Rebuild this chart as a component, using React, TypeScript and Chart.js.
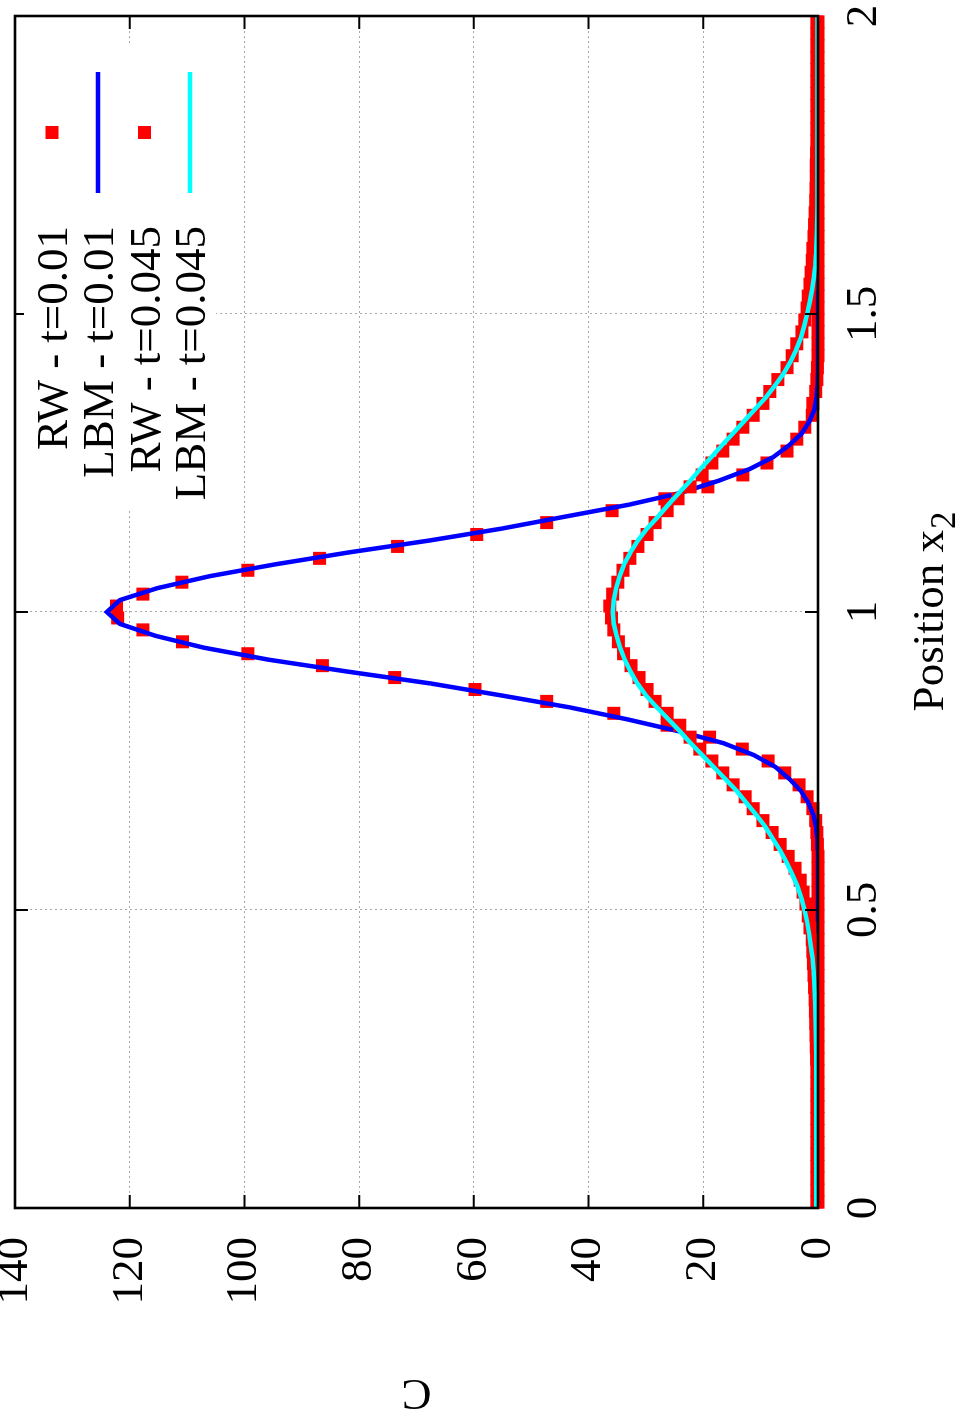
import { useEffect, useRef } from 'react';
import { Chart, registerables } from 'chart.js';

Chart.register(...registerables);

// Random-walk bin centres (shared by both RW series)
const RW_X = [
  0.01, 0.03, 0.05, 0.07, 0.09, 0.11, 0.13, 0.15, 0.17, 0.19,
  0.21, 0.23, 0.25, 0.27, 0.29, 0.31, 0.33, 0.35, 0.37, 0.39,
  0.41, 0.43, 0.45, 0.47, 0.49, 0.51, 0.53, 0.55, 0.57, 0.59,
  0.61, 0.63, 0.65, 0.67, 0.69, 0.71, 0.73, 0.75, 0.77, 0.79,
  0.81, 0.83, 0.85, 0.87, 0.89, 0.91, 0.93, 0.95, 0.97, 0.99,
  1.01, 1.03, 1.05, 1.07, 1.09, 1.11, 1.13, 1.15, 1.17, 1.19,
  1.21, 1.23, 1.25, 1.27, 1.29, 1.31, 1.33, 1.35, 1.37, 1.39,
  1.41, 1.43, 1.45, 1.47, 1.49, 1.51, 1.53, 1.55, 1.57, 1.59,
  1.61, 1.63, 1.65, 1.67, 1.69, 1.71, 1.73, 1.75, 1.77, 1.79,
  1.81, 1.83, 1.85, 1.87, 1.89, 1.91, 1.93, 1.95, 1.97, 1.99,
];

const RW_T001 = [
  0, 0, 0, 0, 0, 0, 0, 0, 0, 0,
  0, 0, 0, 0, 0, 0, 0, 0, 0, 0,
  0, 0, 0, 0, 0, 0, 0, 0, 0, 0,
  0.1, 0.2, 0.4, 0.9, 1.9, 3.3, 5.8, 8.7, 13.2, 18.9,
  26.3, 35.6, 47.3, 59.8, 73.8, 86.4, 99.4, 110.8, 117.7, 122.1,
  122.3, 117.7, 110.9, 99.4, 86.9, 73.3, 59.5, 47.3, 35.9, 26.7,
  19.2, 13.1, 8.9, 5.4, 3.7, 2.3, 1.0, 0.9, 0.4, 0.2,
  0.1, 0, 0, 0, 0, 0, 0, 0, 0, 0,
  0, 0, 0, 0, 0, 0, 0, 0, 0, 0,
  0, 0, 0, 0, 0, 0, 0, 0, 0, 0,
];

const RW_T0045 = [
  0.2, 0.2, 0.2, 0.2, 0.2, 0.2, 0.2, 0.2, 0.2, 0.2,
  0.2, 0.2, 0.25, 0.3, 0.35, 0.4, 0.45, 0.5, 0.6, 0.7,
  0.8, 0.9, 1.0, 1.4, 1.7, 2.1, 2.6, 3.1, 4.0, 5.2,
  6.6, 8.0, 9.6, 11.3, 12.7, 14.8, 16.6, 18.5, 20.6, 22.3,
  24.1, 26.3, 28.4, 29.8, 31.2, 32.6, 33.9, 34.8, 35.6, 36.0,
  36.3, 35.8, 34.9, 34.0, 32.8, 31.4, 29.8, 28.4, 26.3, 24.4,
  22.3, 20.2, 18.5, 16.6, 14.8, 13.1, 11.3, 9.6, 8.4, 7.0,
  5.4, 4.5, 3.7, 2.8, 2.3, 1.9, 1.7, 1.4, 1.2, 1.0,
  0.9, 0.7, 0.6, 0.5, 0.4, 0.35, 0.3, 0.3, 0.25, 0.2,
  0.2, 0.2, 0.2, 0.2, 0.2, 0.2, 0.2, 0.2, 0.2, 0.2,
];

// Lattice Boltzmann nodes (shared by both LBM series)
const LBM_X = [
  0.0, 0.02, 0.04, 0.06, 0.08, 0.1, 0.12, 0.14, 0.16, 0.18,
  0.2, 0.22, 0.24, 0.26, 0.28, 0.3, 0.32, 0.34, 0.36, 0.38,
  0.4, 0.42, 0.44, 0.46, 0.48, 0.5, 0.52, 0.54, 0.56, 0.58,
  0.6, 0.62, 0.64, 0.66, 0.68, 0.7, 0.72, 0.74, 0.76, 0.78,
  0.8, 0.82, 0.84, 0.86, 0.88, 0.9, 0.92, 0.94, 0.96, 0.98,
  1.0, 1.02, 1.04, 1.06, 1.08, 1.1, 1.12, 1.14, 1.16, 1.18,
  1.2, 1.22, 1.24, 1.26, 1.28, 1.3, 1.32, 1.34, 1.36, 1.38,
  1.4, 1.42, 1.44, 1.46, 1.48, 1.5, 1.52, 1.54, 1.56, 1.58,
  1.6, 1.62, 1.64, 1.66, 1.68, 1.7, 1.72, 1.74, 1.76, 1.78,
  1.8, 1.82, 1.84, 1.86, 1.88, 1.9, 1.92, 1.94, 1.96, 1.98,
  2.0,
];

const LBM_T001 = [
  0, 0, 0, 0, 0, 0, 0, 0, 0, 0,
  0, 0, 0, 0, 0, 0, 0, 0, 0, 0,
  0, 0, 0, 0, 0, 0, 0, 0, 0, 0,
  0.05, 0.15, 0.35, 0.8, 1.7, 3.0, 5.0, 7.4, 11.2, 16.5,
  24.3, 33.3, 43.3, 55.2, 67.5, 82.0, 95.8, 107.0, 115.5, 121.7,
  124.0, 121.7, 115.2, 106.1, 94.6, 81.8, 67.7, 55.1, 44.1, 33.0,
  23.9, 17.4, 11.9, 7.8, 5.0, 2.8, 1.5, 0.6, 0.25, 0.1,
  0, 0, 0, 0, 0, 0, 0, 0, 0, 0,
  0, 0, 0, 0, 0, 0, 0, 0, 0, 0,
  0, 0, 0, 0, 0, 0, 0, 0, 0, 0,
  0,
];

const LBM_T0045 = [
  0.3, 0.3, 0.3, 0.3, 0.3, 0.3, 0.3, 0.3, 0.3, 0.3,
  0.3, 0.3, 0.3, 0.32, 0.35, 0.38, 0.42, 0.47, 0.55, 0.65,
  0.78, 0.97, 1.25, 1.55, 1.9, 2.35, 2.9, 3.6, 4.5, 5.5,
  6.6, 7.9, 9.2, 10.8, 12.5, 14.2, 16.2, 18.2, 20.2, 22.2,
  24.1, 26.1, 28.1, 30.0, 31.5, 32.7, 33.7, 34.5, 35.1, 35.6,
  35.8, 35.6, 35.2, 34.6, 33.8, 32.7, 31.4, 29.8, 27.9, 26.1,
  24.2, 22.3, 20.5, 18.6, 16.7, 14.8, 12.9, 11.0, 9.1, 7.5,
  6.0, 4.8, 3.8, 3.0, 2.4, 1.9, 1.45, 1.05, 0.75, 0.5,
  0.35, 0.25, 0.18, 0.13, 0.1, 0.08, 0.08, 0.08, 0.08, 0.08,
  0.08, 0.08, 0.08, 0.08, 0.08, 0.08, 0.08, 0.08, 0.08, 0.08,
  0.08,
];

const X_TICKS = [0, 0.5, 1, 1.5, 2];
const C_TICKS = [0, 20, 40, 60, 80, 100, 120, 140];
const SERIES_LABELS = ['RW - t=0.01', 'LBM - t=0.01', 'RW - t=0.045', 'LBM - t=0.045'];
const X_TITLE = 'Position x';
const X_TITLE_SUB = '2';
const Y_TITLE = 'C';

const FONT = '"Liberation Serif", "Times New Roman", serif';
const FONT_SIZE = 45;
const W = 1413;
const H = 959;

const pts = (xs: number[], ys: number[]) => xs.map((x, i) => ({ x, y: ys[i] }));

// Border, inward mirrored tick marks, axis titles and an opaque key
const gnuplotFrame = {
  id: 'gnuplotFrame',
  afterDatasetsDraw(chart: any) {
    const { ctx, chartArea: a, scales } = chart;
    const xs = scales.x;
    const ys = scales.y;
    ctx.save();
    ctx.strokeStyle = '#000';
    ctx.lineWidth = 2;
    const L = 13;
    ctx.beginPath();
    for (const v of X_TICKS) {
      const px = xs.getPixelForValue(v);
      ctx.moveTo(px, a.bottom);
      ctx.lineTo(px, a.bottom - L);
      ctx.moveTo(px, a.top);
      ctx.lineTo(px, a.top + L);
    }
    for (const v of C_TICKS) {
      const py = ys.getPixelForValue(v);
      ctx.moveTo(a.left, py);
      ctx.lineTo(a.left + L, py);
      ctx.moveTo(a.right, py);
      ctx.lineTo(a.right - L, py);
    }
    ctx.stroke();
    ctx.lineWidth = 2.6;
    ctx.strokeRect(a.left, a.top, a.right - a.left, a.bottom - a.top);

    // axis titles
    ctx.fillStyle = '#000';
    ctx.textBaseline = 'alphabetic';
    const subSize = Math.round(FONT_SIZE * 0.78);
    ctx.font = `${FONT_SIZE}px ${FONT}`;
    const w1 = ctx.measureText(X_TITLE).width;
    ctx.font = `${subSize}px ${FONT}`;
    const w2 = ctx.measureText(X_TITLE_SUB).width;
    const cx = (a.left + a.right) / 2;
    const start = cx - (w1 + w2) / 2;
    ctx.textAlign = 'left';
    ctx.font = `${FONT_SIZE}px ${FONT}`;
    ctx.fillText(X_TITLE, start, 943);
    ctx.font = `${subSize}px ${FONT}`;
    ctx.fillText(X_TITLE_SUB, start + w1 + 1, 955);

    ctx.save();
    ctx.translate(33, (a.top + a.bottom) / 2);
    ctx.rotate(-Math.PI / 2);
    ctx.textAlign = 'center';
    ctx.font = `${FONT_SIZE}px ${FONT}`;
    ctx.fillText(Y_TITLE, 0, 0);
    ctx.restore();
    ctx.restore();
  },
  afterDraw(chart: any) {
    const { ctx } = chart;
    ctx.save();
    ctx.fillStyle = '#fff';
    ctx.fillRect(903, 24, 465, 192);
    const baselines = [67, 113, 159.5, 205];
    const textRight = 1187;
    const sampleL = 1220;
    const sampleR = 1341;
    chart.data.datasets.forEach((ds: any, i: number) => {
      const b = baselines[i];
      ctx.font = `${FONT_SIZE}px ${FONT}`;
      ctx.fillStyle = '#000';
      ctx.textAlign = 'right';
      ctx.textBaseline = 'alphabetic';
      ctx.fillText(ds.label, textRight, b);
      const my = b - 15;
      if (ds.showLine) {
        ctx.strokeStyle = ds.borderColor;
        ctx.lineWidth = ds.borderWidth;
        ctx.beginPath();
        ctx.moveTo(sampleL, my);
        ctx.lineTo(sampleR, my);
        ctx.stroke();
      } else {
        ctx.fillStyle = ds.pointBackgroundColor;
        ctx.fillRect((sampleL + sampleR) / 2 - 6.5, my - 6.5, 13, 13);
      }
    });
    ctx.restore();
  },
};

export default function App() {
  const ref = useRef<HTMLCanvasElement>(null);

  useEffect(() => {
    document.body.style.margin = '0';
    const canvas = ref.current;
    if (!canvas) return;

    const rwSet = (label: string, ys: number[], order: number) => ({
      label,
      data: pts(RW_X, ys),
      showLine: false,
      pointStyle: 'rect',
      pointRadius: 9.2,
      pointBackgroundColor: '#ff0000',
      pointBorderColor: '#ff0000',
      pointBorderWidth: 0,
      clip: false,
      order,
    });
    const lbmSet = (label: string, ys: number[], color: string, order: number) => ({
      label,
      data: pts(LBM_X, ys),
      showLine: true,
      borderColor: color,
      backgroundColor: color,
      borderWidth: 4.5,
      pointRadius: 0,
      tension: 0,
      order,
    });

    const chart = new Chart(canvas, {
      type: 'scatter',
      data: {
        datasets: [
          rwSet(SERIES_LABELS[0], RW_T001, 4),
          lbmSet(SERIES_LABELS[1], LBM_T001, '#0000ff', 3),
          rwSet(SERIES_LABELS[2], RW_T0045, 2),
          lbmSet(SERIES_LABELS[3], LBM_T0045, '#00ffff', 1),
        ] as any,
      },
      options: {
        animation: false,
        responsive: false,
        devicePixelRatio: 1,
        events: [],
        layout: { padding: { top: 15, right: 16, left: 0, bottom: 0 } },
        plugins: {
          legend: { display: false },
          tooltip: { enabled: false },
        },
        scales: {
          x: {
            type: 'linear',
            min: 0,
            max: 2,
            afterBuildTicks: (s: any) => {
              s.ticks = X_TICKS.map((v) => ({ value: v }));
            },
            afterFit: (s: any) => {
              s.height = 141;
              s.paddingLeft = 0;
              s.paddingRight = 0;
            },
            grid: { color: '#a8a8a8', lineWidth: 1, drawTicks: false },
            border: { display: false, dash: [2, 3] },
            ticks: {
              color: '#000',
              font: { family: FONT, size: FONT_SIZE },
              padding: 19,
              maxRotation: 0,
              autoSkip: false,
              callback: (v: any) => String(v),
            },
          },
          y: {
            type: 'linear',
            min: 0,
            max: 140,
            afterBuildTicks: (s: any) => {
              s.ticks = C_TICKS.map((v) => ({ value: v }));
            },
            afterFit: (s: any) => {
              s.width = 205;
              s.paddingTop = 0;
              s.paddingBottom = 0;
            },
            grid: { color: '#a8a8a8', lineWidth: 1, drawTicks: false },
            border: { display: false, dash: [2, 3] },
            ticks: {
              color: '#000',
              font: { family: FONT, size: FONT_SIZE },
              padding: 29,
              autoSkip: false,
              callback: (v: any) => String(v),
            },
          },
        },
      },
      plugins: [gnuplotFrame],
    } as any);

    return () => chart.destroy();
  }, []);

  return (
    <div style={{ position: 'relative', width: 959, height: 1413, overflow: 'hidden', background: '#fff' }}>
      <canvas
        ref={ref}
        width={W}
        height={H}
        style={{
          position: 'absolute',
          left: 0,
          top: 0,
          width: W,
          height: H,
          transformOrigin: '0 0',
          transform: `translate(0px, ${W}px) rotate(-90deg)`,
        }}
      />
    </div>
  );
}
